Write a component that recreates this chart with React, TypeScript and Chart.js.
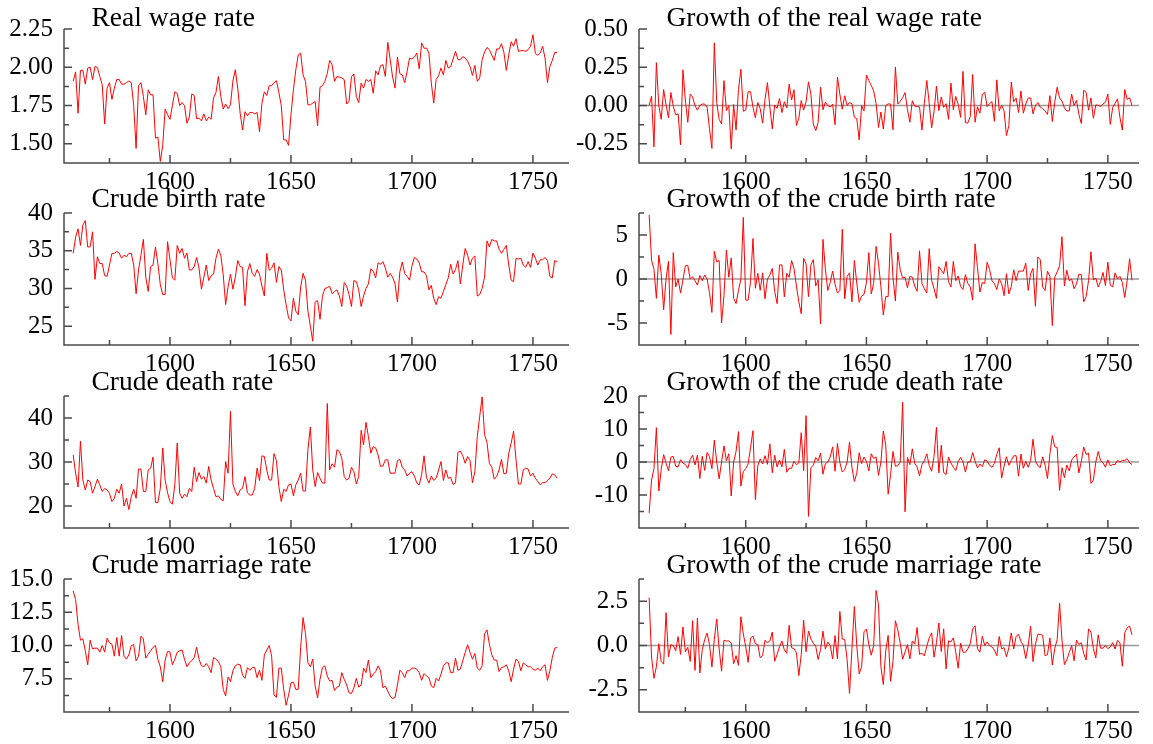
import React, { useEffect, useRef } from "react";
import { Chart, registerables } from "chart.js";

Chart.register(...registerables);

const START_YEAR = 1560;

const REAL_WAGE = [
  1.908, 1.97, 1.70, 1.98, 1.98, 1.89, 1.995, 2.00, 1.92, 2.005,
  2.00, 1.94, 1.886, 1.63, 1.864, 1.90, 1.79, 1.864, 1.92, 1.92,
  1.89, 1.89, 1.90, 1.91, 1.90, 1.75, 1.47, 1.88, 1.90, 1.81,
  1.69, 1.853, 1.82, 1.82, 1.537, 1.544, 1.385, 1.49, 1.727, 1.69,
  1.66, 1.75, 1.84, 1.83, 1.75, 1.77, 1.75, 1.635, 1.675, 1.825,
  1.816, 1.664, 1.668, 1.65, 1.696, 1.65, 1.675, 1.66, 1.80, 1.836,
  1.94, 1.81, 1.727, 1.76, 1.73, 1.755, 1.91, 1.984, 1.864, 1.70,
  1.59, 1.71, 1.683, 1.705, 1.705, 1.696, 1.705, 1.58, 1.766, 1.84,
  1.816, 1.88, 1.88, 1.90, 1.912, 1.836, 1.75, 1.526, 1.526, 1.49,
  1.69, 1.853, 1.984, 2.08, 2.093, 1.95, 1.908, 1.755, 1.755, 1.766,
  1.776, 1.618, 1.87, 1.88, 1.908, 1.96, 2.045, 2.017, 1.908, 1.94,
  1.936, 1.93, 1.92, 1.76, 1.776, 1.94, 1.956, 1.81, 1.77, 1.897,
  1.864, 1.92, 1.908, 1.92, 1.83, 1.977, 1.95, 2.01, 2.017, 1.94,
  2.163, 2.05, 1.936, 1.864, 2.067, 1.958, 1.95, 1.90, 1.973, 2.06,
  2.054, 2.067, 2.093, 1.99, 2.158, 2.124, 2.126, 2.093, 1.897, 1.766,
  1.92, 1.945, 1.995, 1.95, 2.045, 1.995, 2.005, 2.054, 2.104, 2.05,
  2.05, 2.07, 2.06, 2.04, 2.005, 1.947, 2.012, 1.908, 1.93, 2.05,
  2.10, 2.13, 2.115, 2.08, 2.045, 2.12, 2.12, 2.154, 2.097, 1.98,
  2.08, 2.167, 2.137, 2.187, 2.104, 2.108, 2.11, 2.104, 2.115, 2.137,
  2.213, 2.09, 2.078, 2.093, 2.137, 2.06, 1.90, 2.005, 2.045, 2.097,
  2.097,
];

const REAL_WAGE_GROWTH = [
  0.0, 0.062, -0.27, 0.28, 0.0, -0.09, 0.105, 0.005, -0.08, 0.085,
  -0.005, -0.06, -0.054, -0.256, 0.234, 0.036, -0.11, 0.074, 0.056, 0.0,
  -0.03, 0.0, 0.01, 0.01, -0.01, -0.15, -0.28, 0.41, 0.02, -0.09,
  -0.12, 0.163, -0.033, 0.0, -0.283, 0.007, -0.159, 0.105, 0.237, -0.037,
  -0.03, 0.09, 0.09, -0.01, -0.08, 0.02, -0.02, -0.115, 0.04, 0.15,
  -0.009, -0.152, 0.004, -0.018, 0.046, -0.046, 0.025, -0.015, 0.14, 0.036,
  0.104, -0.13, -0.083, 0.033, -0.03, 0.025, 0.155, 0.074, -0.12, -0.164,
  -0.11, 0.12, -0.027, 0.022, 0.0, -0.009, 0.009, -0.125, 0.186, 0.074,
  -0.024, 0.064, 0.0, 0.02, 0.012, -0.076, -0.086, -0.224, 0.0, -0.036,
  0.2, 0.163, 0.131, 0.096, 0.013, -0.143, -0.042, -0.153, 0.0, 0.011,
  0.01, -0.158, 0.252, 0.01, 0.028, 0.052, 0.085, -0.028, -0.109, 0.032,
  -0.004, -0.006, -0.01, -0.16, 0.016, 0.164, 0.016, -0.146, -0.04, 0.127,
  -0.033, 0.056, -0.012, 0.012, -0.09, 0.147, -0.027, 0.06, 0.007, -0.077,
  0.223, -0.113, -0.114, -0.072, 0.203, -0.109, -0.008, -0.05, 0.073, 0.087,
  -0.006, 0.013, 0.026, -0.103, 0.168, -0.034, 0.002, -0.033, -0.196, -0.131,
  0.154, 0.025, 0.05, -0.045, 0.095, -0.05, 0.01, 0.049, 0.05, -0.054,
  0.0, 0.02, -0.01, -0.02, -0.035, -0.058, 0.065, -0.104, 0.022, 0.12,
  0.05, 0.03, -0.015, -0.035, -0.035, 0.075, 0.0, 0.034, -0.057, -0.117,
  0.1, 0.087, -0.03, 0.05, -0.083, 0.004, 0.002, -0.006, 0.011, 0.022,
  0.076, -0.123, -0.012, 0.015, 0.044, -0.077, -0.16, 0.105, 0.04, 0.052,
  0.0,
];

const BIRTH_RATE = [
  34.65, 36.8, 37.9, 35.7, 38.4, 39.0, 35.5, 35.5, 37.5, 31.2,
  34.2, 33.3, 33.3, 31.7, 31.6, 33.1, 34.65, 34.65, 34.9, 34.7,
  34.0, 34.4, 34.2, 34.65, 34.65, 33.1, 29.3, 32.45, 34.4, 36.5,
  31.5, 29.6, 32.9, 33.1, 35.5, 33.3, 30.5, 29.2, 29.2, 36.2,
  33.8, 31.4, 31.1, 35.7, 34.65, 35.3, 34.0, 34.7, 32.45, 32.45,
  32.9, 34.1, 32.7, 29.9, 31.5, 33.1, 31.05, 31.7, 31.9, 34.0,
  35.2, 34.4, 31.8, 27.85, 30.2, 31.9, 29.9, 31.5, 33.7, 32.9,
  32.8, 27.7, 32.2, 33.3, 32.0, 31.6, 32.5, 31.9, 30.3, 29.0,
  34.65, 32.4, 32.7, 33.4, 30.8, 32.9, 32.45, 29.8, 27.85, 26.1,
  25.7, 28.7, 27.0, 26.5, 30.2, 32.0, 31.1, 27.0, 25.0, 23.0,
  28.2, 28.4, 25.9, 28.95, 30.0, 30.1, 30.3, 29.3, 29.6, 29.8,
  29.0, 27.6, 30.8, 30.3, 29.2, 27.6, 31.05, 30.9, 29.8, 27.6,
  29.0, 30.0, 30.6, 32.6, 32.3, 31.4, 33.4, 33.2, 33.55, 32.7,
  31.5, 32.0, 31.5, 30.6, 28.2, 32.2, 33.5, 32.0, 31.6, 31.1,
  33.0, 34.1, 33.9, 33.4, 32.2, 32.2, 31.7, 29.8, 30.4, 28.7,
  27.85, 28.9, 28.7, 29.6, 30.5, 31.4, 33.2, 31.9, 32.5, 33.7,
  30.6, 33.1, 35.3, 34.4, 33.1, 34.0, 34.3, 29.0, 29.2, 30.0,
  31.5, 36.3, 35.5, 36.5, 36.3, 36.3, 35.2, 34.65, 35.2, 35.7,
  33.1, 31.1, 30.9, 34.0, 33.9, 34.0, 33.1, 32.8, 33.55, 32.8,
  34.7, 34.0, 33.1, 33.8, 33.8, 34.1, 33.7, 31.6, 31.4, 33.7,
  33.55,
];

const BIRTH_RATE_GROWTH = [
  7.3, 2.15, 1.1, -2.2, 2.7, 0.6, -3.5, 0.0, 2.0, -6.3,
  3.0, -0.9, 0.0, -1.6, -0.1, 1.5, 1.55, 0.0, 0.25, -0.2,
  -0.7, 0.4, -0.2, 0.45, 0.0, -1.55, -3.8, 3.15, 1.95, 2.1,
  -5.0, -1.9, 3.3, 0.2, 2.4, -2.2, -2.8, -1.3, 0.0, 7.0,
  -2.4, -2.4, -0.3, 4.6, -1.05, 0.65, -1.3, 0.7, -2.25, 0.0,
  0.45, 1.2, -1.4, -2.8, 1.6, 1.6, -2.05, 0.65, 0.2, 2.1,
  1.2, -0.8, -2.6, -3.95, 2.35, 1.7, -2.0, 1.6, 2.2, -0.8,
  -0.1, -5.1, 4.5, 1.1, -1.3, -0.4, 0.9, -0.6, -1.6, -1.3,
  5.65, -2.25, 0.3, 0.7, -2.6, 2.1, -0.45, -2.65, -1.95, -1.75,
  -0.4, 3.0, -1.7, -0.5, 3.7, 1.8, -0.9, -4.1, -2.0, -2.0,
  5.2, 0.2, -2.5, 3.05, 1.05, 0.1, 0.2, -1.0, 0.3, 0.2,
  -0.8, -1.4, 3.2, -0.5, -1.1, -1.6, 3.45, -0.15, -1.1, -2.2,
  1.4, 1.0, 0.6, 2.0, -0.3, -0.9, 2.0, -0.2, 0.35, -0.85,
  -1.2, 0.5, -0.5, -0.9, -2.4, 4.0, 1.3, -1.5, -0.4, -0.5,
  1.9, 1.1, -0.2, -0.5, -1.2, 0.0, -0.5, -1.9, 0.6, -1.7,
  -0.85, 1.05, -0.2, 0.9, 0.9, 0.9, 1.8, -1.3, 0.6, 1.2,
  -3.1, 2.5, 2.2, -0.9, -1.3, 0.9, 0.3, -5.3, 0.2, 0.8,
  1.5, 4.8, -0.8, 1.0, -0.2, 0.0, -1.1, -0.55, 0.55, 0.5,
  -2.6, -2.0, -0.2, 3.1, -0.1, 0.1, -0.9, -0.3, 0.75, -0.75,
  1.9, -0.7, -0.9, 0.7, 0.0, 0.3, -0.4, -2.1, -0.2, 2.3,
  -0.15,
];

const DEATH_RATE = [
  31.6, 27.45, 24.3, 34.7, 25.9, 23.65, 25.9, 25.55, 22.9, 24.4,
  26.1, 24.8, 23.3, 24.0, 23.65, 22.9, 21.0, 21.75, 23.8, 22.9,
  25.0, 20.0, 21.75, 19.2, 22.1, 23.8, 21.75, 28.4, 28.4, 23.3,
  23.3, 28.2, 28.6, 31.1, 20.8, 20.8, 24.0, 33.2, 25.9, 23.0,
  21.0, 20.4, 24.8, 34.3, 22.9, 21.75, 22.7, 22.1, 24.0, 23.3,
  28.8, 25.55, 27.6, 26.1, 26.7, 25.2, 29.0, 25.9, 24.0, 22.1,
  22.3, 21.5, 21.2, 30.1, 27.45, 41.5, 25.0, 23.3, 22.3, 23.65,
  24.0, 26.7, 23.0, 22.5, 22.5, 24.0, 28.6, 25.8, 31.4, 31.25,
  28.2, 25.9, 25.9, 31.9, 30.3, 24.4, 21.0, 23.8, 23.3, 24.8,
  25.0, 22.3, 24.8, 25.9, 27.45, 23.4, 23.4, 32.8, 37.95, 28.2,
  24.4, 27.6, 26.3, 25.2, 25.2, 43.3, 28.2, 29.6, 28.8, 32.8,
  32.4, 30.9, 26.7, 25.9, 26.3, 28.8, 27.8, 25.0, 26.7, 37.2,
  33.9, 39.0, 35.8, 32.0, 33.5, 33.2, 31.6, 29.0, 29.1, 30.5,
  30.5, 27.45, 27.45, 27.45, 30.3, 30.6, 28.8, 28.2, 26.8, 27.45,
  27.8, 26.8, 25.2, 24.8, 27.1, 31.4, 26.5, 25.2, 26.8, 25.8,
  26.3, 28.2, 30.1, 25.8, 28.2, 26.3, 26.5, 24.9, 25.3, 32.2,
  32.5, 31.4, 29.7, 31.25, 30.3, 25.3, 27.8, 35.8, 40.4, 44.8,
  36.2, 34.45, 29.7, 28.8, 26.1, 26.7, 28.2, 30.6, 27.3, 27.45,
  32.0, 34.3, 37.0, 30.5, 25.0, 25.0, 28.2, 28.6, 28.4, 26.8,
  27.45, 26.3, 25.55, 24.8, 25.3, 25.3, 25.8, 26.3, 27.3, 27.1,
  26.3,
];

const DEATH_RATE_GROWTH = [
  -15.5, -5.5, -2.0, 10.4, -8.8, -2.25, 2.25, -0.35, -2.65, 1.5,
  1.7, -1.3, -1.5, 0.7, -0.35, -0.75, -1.9, 0.75, 2.05, -0.9,
  2.1, -5.0, 1.75, -2.55, 2.9, 1.7, -2.05, 6.65, 0.0, -5.1,
  0.0, 4.9, 0.4, 2.5, -10.3, 0.0, 3.2, 9.2, -7.3, -2.9,
  -2.0, -0.6, 4.4, 9.5, -11.4, -1.15, 0.95, -0.6, 1.9, -0.7,
  5.5, -3.25, 2.05, -1.5, 0.6, -1.5, 3.8, -3.1, -1.9, -1.9,
  0.2, -0.8, -0.3, 8.9, -2.65, 14.05, -16.5, -1.7, -1.0, 1.35,
  0.35, 2.7, -3.7, -0.5, 0.0, 1.5, 4.6, -2.8, 5.6, -0.15,
  -3.05, -2.3, 0.0, 6.0, -1.6, -5.9, -3.4, 2.8, -0.5, 1.5,
  0.2, -2.7, 2.5, 1.1, 1.55, -4.05, 0.0, 9.4, 5.15, -9.75,
  -3.8, 3.2, -1.3, -1.1, 0.0, 18.1, -15.1, 1.4, -0.8, 4.0,
  -0.4, -1.5, -4.2, -0.8, 0.4, 2.5, -1.0, -2.8, 1.7, 10.5,
  -3.3, 5.1, -3.2, -3.8, 1.5, -0.3, -1.6, -2.6, 0.1, 1.4,
  0.0, -3.05, 0.0, 0.0, 2.85, 0.3, -1.8, -0.6, -1.4, 0.65,
  0.35, -1.0, -1.6, -0.4, 2.3, 4.3, -4.9, -1.3, 1.6, -1.0,
  0.5, 1.9, 1.9, -4.3, 2.4, -1.9, 0.2, -1.6, 0.4, 6.9,
  0.3, -1.1, -1.7, 1.55, -0.95, -5.0, 2.5, 8.0, 4.6, 4.4,
  -8.6, -1.75, -4.75, -0.9, -2.7, 0.6, 1.5, 2.4, -3.3, 0.15,
  4.55, 2.3, 2.7, -6.5, -5.5, 0.0, 3.2, 0.4, -0.2, -1.6,
  0.65, -1.15, -0.75, -0.75, 0.5, 0.0, 0.5, 0.5, 1.0, -0.2,
  -0.8,
];

const MARRIAGE_RATE = [
  14.1, 13.45, 11.6, 10.4, 10.5, 9.6, 8.55, 10.4, 9.75, 9.8,
  9.8, 9.5, 10.0, 9.5, 10.55, 10.2, 10.1, 9.2, 10.6, 9.2,
  10.75, 9.2, 8.97, 9.3, 10.0, 10.06, 8.85, 9.2, 10.7, 10.5,
  9.05, 9.35, 9.6, 9.86, 10.0, 8.97, 8.4, 7.28, 8.9, 9.56,
  9.5, 8.55, 8.97, 9.5, 9.6, 9.66, 8.97, 8.4, 8.7, 8.85,
  9.1, 9.86, 8.97, 8.47, 8.4, 8.65, 8.4, 7.96, 9.1, 8.97,
  8.8, 8.4, 6.7, 6.2, 7.63, 7.28, 8.1, 8.47, 8.6, 8.55,
  7.76, 7.53, 8.34, 8.14, 8.34, 8.34, 7.58, 8.14, 7.38, 9.3,
  9.66, 10.0, 9.2, 6.27, 6.1, 8.3, 8.3, 6.7, 5.5, 6.27,
  7.2, 7.25, 6.7, 6.7, 9.86, 12.1, 10.9, 8.7, 8.4, 8.97,
  6.95, 6.06, 7.46, 8.34, 8.47, 7.7, 7.33, 7.38, 6.62, 6.87,
  6.95, 7.96, 7.46, 7.03, 6.44, 6.39, 6.82, 7.53, 6.87, 7.03,
  8.3, 7.96, 8.9, 7.58, 7.84, 8.04, 8.47, 8.1, 6.82, 6.95,
  6.57, 6.19, 6.0, 6.1, 7.03, 8.14, 7.96, 7.58, 8.1, 8.1,
  8.3, 8.3, 8.22, 7.96, 7.38, 7.89, 7.7, 7.58, 6.95, 6.82,
  7.53, 7.33, 7.84, 8.47, 8.7, 8.7, 7.96, 7.96, 9.05, 8.14,
  8.22, 8.85, 9.48, 10.06, 9.48, 8.97, 9.4, 8.3, 8.14, 8.47,
  10.87, 11.18, 10.1, 9.3, 8.9, 8.9, 8.04, 8.34, 8.4, 8.55,
  8.1, 7.28, 8.22, 8.97, 8.8, 8.1, 8.7, 8.55, 8.4, 8.4,
  8.22, 8.14, 8.3, 8.1, 8.4, 8.55, 7.38, 8.1, 9.1, 9.8,
  9.86,
];

const MARRIAGE_RATE_GROWTH = [
  2.7, -0.65, -1.85, -1.2, 0.1, -0.9, -1.05, 1.85, -0.65, 0.05,
  0.0, -0.3, 0.5, -0.5, 1.05, -0.35, -0.1, -0.9, 1.4, -1.4,
  1.55, -1.55, -0.23, 0.33, 0.7, 0.06, -1.21, 0.35, 1.5, -0.2,
  -1.45, 0.3, 0.25, 0.26, 0.14, -1.03, -0.57, -1.12, 1.62, 0.66,
  -0.06, -0.95, 0.42, 0.53, 0.1, 0.06, -0.69, -0.57, 0.3, 0.15,
  0.25, 0.76, -0.89, -0.5, -0.07, 0.25, -0.25, -0.44, 1.14, -0.13,
  -0.17, -0.4, -1.7, -0.5, 1.43, -0.35, 0.82, 0.37, 0.13, -0.05,
  -0.79, -0.23, 0.81, -0.2, 0.2, 0.0, -0.76, 0.56, -0.76, 1.92,
  0.36, 0.34, -0.8, -2.7, -0.17, 2.2, 0.0, -1.6, -1.2, 0.77,
  0.93, 0.05, -0.55, 0.0, 3.1, 2.3, -1.2, -2.2, -0.3, 0.57,
  -2.02, -0.89, 1.4, 0.88, 0.13, -0.77, -0.37, 0.05, -0.76, 0.25,
  0.08, 1.01, -0.5, -0.43, -0.59, -0.05, 0.43, 0.71, -0.66, 0.16,
  1.27, -0.34, 0.94, -1.32, 0.26, 0.2, 0.43, -0.37, -1.28, 0.13,
  -0.38, -0.38, -0.19, 0.1, 0.93, 1.11, -0.18, -0.38, 0.52, 0.0,
  0.2, 0.0, -0.08, -0.26, -0.58, 0.51, -0.19, -0.12, -0.63, -0.13,
  0.71, -0.2, 0.51, 0.63, 0.23, 0.0, -0.74, 0.0, 1.09, -0.91,
  0.08, 0.63, 0.63, 0.58, -0.58, -0.51, 0.43, -1.1, -0.16, 0.33,
  2.4, 0.31, -1.08, -0.8, -0.4, 0.0, -0.86, 0.3, 0.06, 0.15,
  -0.45, -0.82, 0.94, 0.75, -0.17, -0.7, 0.6, -0.15, -0.15, 0.0,
  -0.18, -0.08, 0.16, -0.2, 0.3, 0.15, -1.17, 0.72, 1.0, 1.1,
  0.6,
];

const X_TICKS = [1600, 1650, 1700, 1750];

const FONT_FAMILY = '"Liberation Serif", "Times New Roman", Times, serif';
const FONT_SIZE = 25;
const TITLE_SIZE = 27.5;
const AXIS_COLOR = "#4a4a4a";
const ZERO_COLOR = "#9a9a9a";
const LINE_COLOR = "#ff0000";

const COLUMNS = [
  { canvasX: 0, canvasW: 576, plotL: 64, plotR: 569, xMin: 1556.2, xMax: 1764.9 },
  { canvasX: 576, canvasW: 577, plotL: 63, plotR: 563, xMin: 1555.8, xMax: 1762.9 },
];
const ROWS = [
  { top: 29, bottom: 163, titleBaseline: 25.5 },
  { top: 213, bottom: 345, titleBaseline: 206.7 },
  { top: 396, bottom: 528, titleBaseline: 390 },
  { top: 579, bottom: 712, titleBaseline: 572.5 },
];
const TOP_SPACE = 29;
const BOTTOM_SPACE = 32;

type PanelSpec = {
  title: string;
  values: number[];
  col: number;
  row: number;
  yMin: number;
  yMax: number;
  yTicks: number[];
  decimals: number;
  yMinor: number;
  zero: boolean;
};

const PANELS: PanelSpec[] = [
  { title: "Real wage rate", values: REAL_WAGE, col: 0, row: 0, yMin: 1.375, yMax: 2.25, yTicks: [1.5, 1.75, 2.0, 2.25], decimals: 2, yMinor: 0.125, zero: false },
  { title: "Growth of the real wage rate", values: REAL_WAGE_GROWTH, col: 1, row: 0, yMin: -0.375, yMax: 0.5, yTicks: [-0.25, 0, 0.25, 0.5], decimals: 2, yMinor: 0.125, zero: true },
  { title: "Crude birth rate", values: BIRTH_RATE, col: 0, row: 1, yMin: 22.5, yMax: 40, yTicks: [25, 30, 35, 40], decimals: 0, yMinor: 2.5, zero: false },
  { title: "Growth of the crude birth rate", values: BIRTH_RATE_GROWTH, col: 1, row: 1, yMin: -7.5, yMax: 7.5, yTicks: [-5, 0, 5], decimals: 0, yMinor: 2.5, zero: true },
  { title: "Crude death rate", values: DEATH_RATE, col: 0, row: 2, yMin: 15, yMax: 45, yTicks: [20, 30, 40], decimals: 0, yMinor: 5, zero: false },
  { title: "Growth of the crude death rate", values: DEATH_RATE_GROWTH, col: 1, row: 2, yMin: -20, yMax: 20, yTicks: [-10, 0, 10, 20], decimals: 0, yMinor: 5, zero: true },
  { title: "Crude marriage rate", values: MARRIAGE_RATE, col: 0, row: 3, yMin: 5, yMax: 15, yTicks: [7.5, 10, 12.5, 15], decimals: 1, yMinor: 1.25, zero: false },
  { title: "Growth of the crude marriage rate", values: MARRIAGE_RATE_GROWTH, col: 1, row: 3, yMin: -3.75, yMax: 3.75, yTicks: [-2.5, 0, 2.5], decimals: 1, yMinor: 1.25, zero: true },
];

function PanelChart({ spec }: { spec: PanelSpec }) {
  const ref = useRef<HTMLCanvasElement | null>(null);
  const col = COLUMNS[spec.col];
  const row = ROWS[spec.row];
  const height = row.bottom - row.top + TOP_SPACE + BOTTOM_SPACE;

  useEffect(() => {
    if (!ref.current) return;
    const deco = {
      id: "panelDeco",
      beforeDatasetsDraw(chart: any) {
        if (!spec.zero) return;
        const { ctx, chartArea: a, scales } = chart;
        const y = scales.y.getPixelForValue(0);
        ctx.save();
        ctx.strokeStyle = ZERO_COLOR;
        ctx.lineWidth = 1.5;
        ctx.beginPath();
        ctx.moveTo(a.left, y);
        ctx.lineTo(a.right, y);
        ctx.stroke();
        ctx.restore();
      },
      afterDraw(chart: any) {
        const { ctx, chartArea: a, scales } = chart;
        const xs = scales.x;
        const ys = scales.y;
        ctx.save();
        ctx.strokeStyle = AXIS_COLOR;
        ctx.lineWidth = 1.5;
        ctx.beginPath();
        ctx.moveTo(a.left, a.top);
        ctx.lineTo(a.left, a.bottom);
        ctx.lineTo(a.right, a.bottom);
        for (let k = Math.ceil(xs.min / 25); k * 25 <= xs.max; k++) {
          const px = xs.getPixelForValue(k * 25);
          const len = k % 2 === 0 ? 8 : 5;
          ctx.moveTo(px, a.bottom);
          ctx.lineTo(px, a.bottom - len);
        }
        const step = spec.yMinor;
        for (let k = Math.ceil(ys.min / step - 1e-6); k * step <= ys.max + 1e-9; k++) {
          const py = ys.getPixelForValue(k * step);
          const len = k % 2 === 0 ? 8 : 5;
          ctx.moveTo(a.left, py);
          ctx.lineTo(a.left + len, py);
        }
        ctx.stroke();
        ctx.fillStyle = "#000";
        ctx.font = `${TITLE_SIZE}px ${FONT_FAMILY}`;
        ctx.textAlign = "left";
        ctx.textBaseline = "alphabetic";
        const baseline = row.titleBaseline - (row.top - TOP_SPACE);
        ctx.fillText(spec.title, a.left + 27.5, baseline);
        ctx.restore();
      },
    };

    const chart = new Chart(ref.current, {
      type: "line",
      data: {
        datasets: [
          {
            data: spec.values.map((v, i) => ({ x: START_YEAR + i, y: v })),
            borderColor: LINE_COLOR,
            borderWidth: 1,
            pointRadius: 0,
            tension: 0,
            fill: false,
          },
        ],
      },
      options: {
        animation: false,
        responsive: false,
        maintainAspectRatio: false,
        events: [],
        layout: {
          padding: { top: TOP_SPACE, bottom: 0, left: 0, right: col.canvasW - col.plotR },
        },
        plugins: {
          legend: { display: false },
          tooltip: { enabled: false },
          title: { display: false },
        },
        scales: {
          x: {
            type: "linear",
            min: col.xMin,
            max: col.xMax,
            grid: { display: false, drawTicks: false },
            border: { display: false },
            ticks: {
              padding: 4,
              color: "#000",
              font: { family: FONT_FAMILY, size: FONT_SIZE },
              maxRotation: 0,
              autoSkip: false,
              callback: (v: any) => String(v),
            },
            afterBuildTicks: (axis: any) => {
              axis.ticks = X_TICKS.map((v) => ({ value: v }));
            },
            afterFit: (axis: any) => {
              axis.height = BOTTOM_SPACE;
            },
          },
          y: {
            type: "linear",
            min: spec.yMin,
            max: spec.yMax,
            grid: { display: false, drawTicks: false },
            border: { display: false },
            ticks: {
              padding: 11,
              color: "#000",
              font: { family: FONT_FAMILY, size: FONT_SIZE },
              callback: (v: any) => Number(v).toFixed(spec.decimals),
            },
            afterBuildTicks: (axis: any) => {
              axis.ticks = spec.yTicks.map((v) => ({ value: v }));
            },
            afterFit: (axis: any) => {
              axis.width = col.plotL;
            },
          },
        },
      },
      plugins: [deco],
    } as any);
    return () => chart.destroy();
  }, []);

  return (
    <canvas
      ref={ref}
      width={col.canvasW}
      height={height}
      style={{
        position: "absolute",
        left: col.canvasX,
        top: row.top - TOP_SPACE,
        width: col.canvasW,
        height,
      }}
    />
  );
}

export default function App() {
  return (
    <div
      style={{
        position: "absolute",
        left: 0,
        top: 0,
        width: 1153,
        height: 744,
        background: "#fff",
        overflow: "hidden",
      }}
    >
      {PANELS.map((p, i) => (
        <PanelChart key={i} spec={p} />
      ))}
    </div>
  );
}
